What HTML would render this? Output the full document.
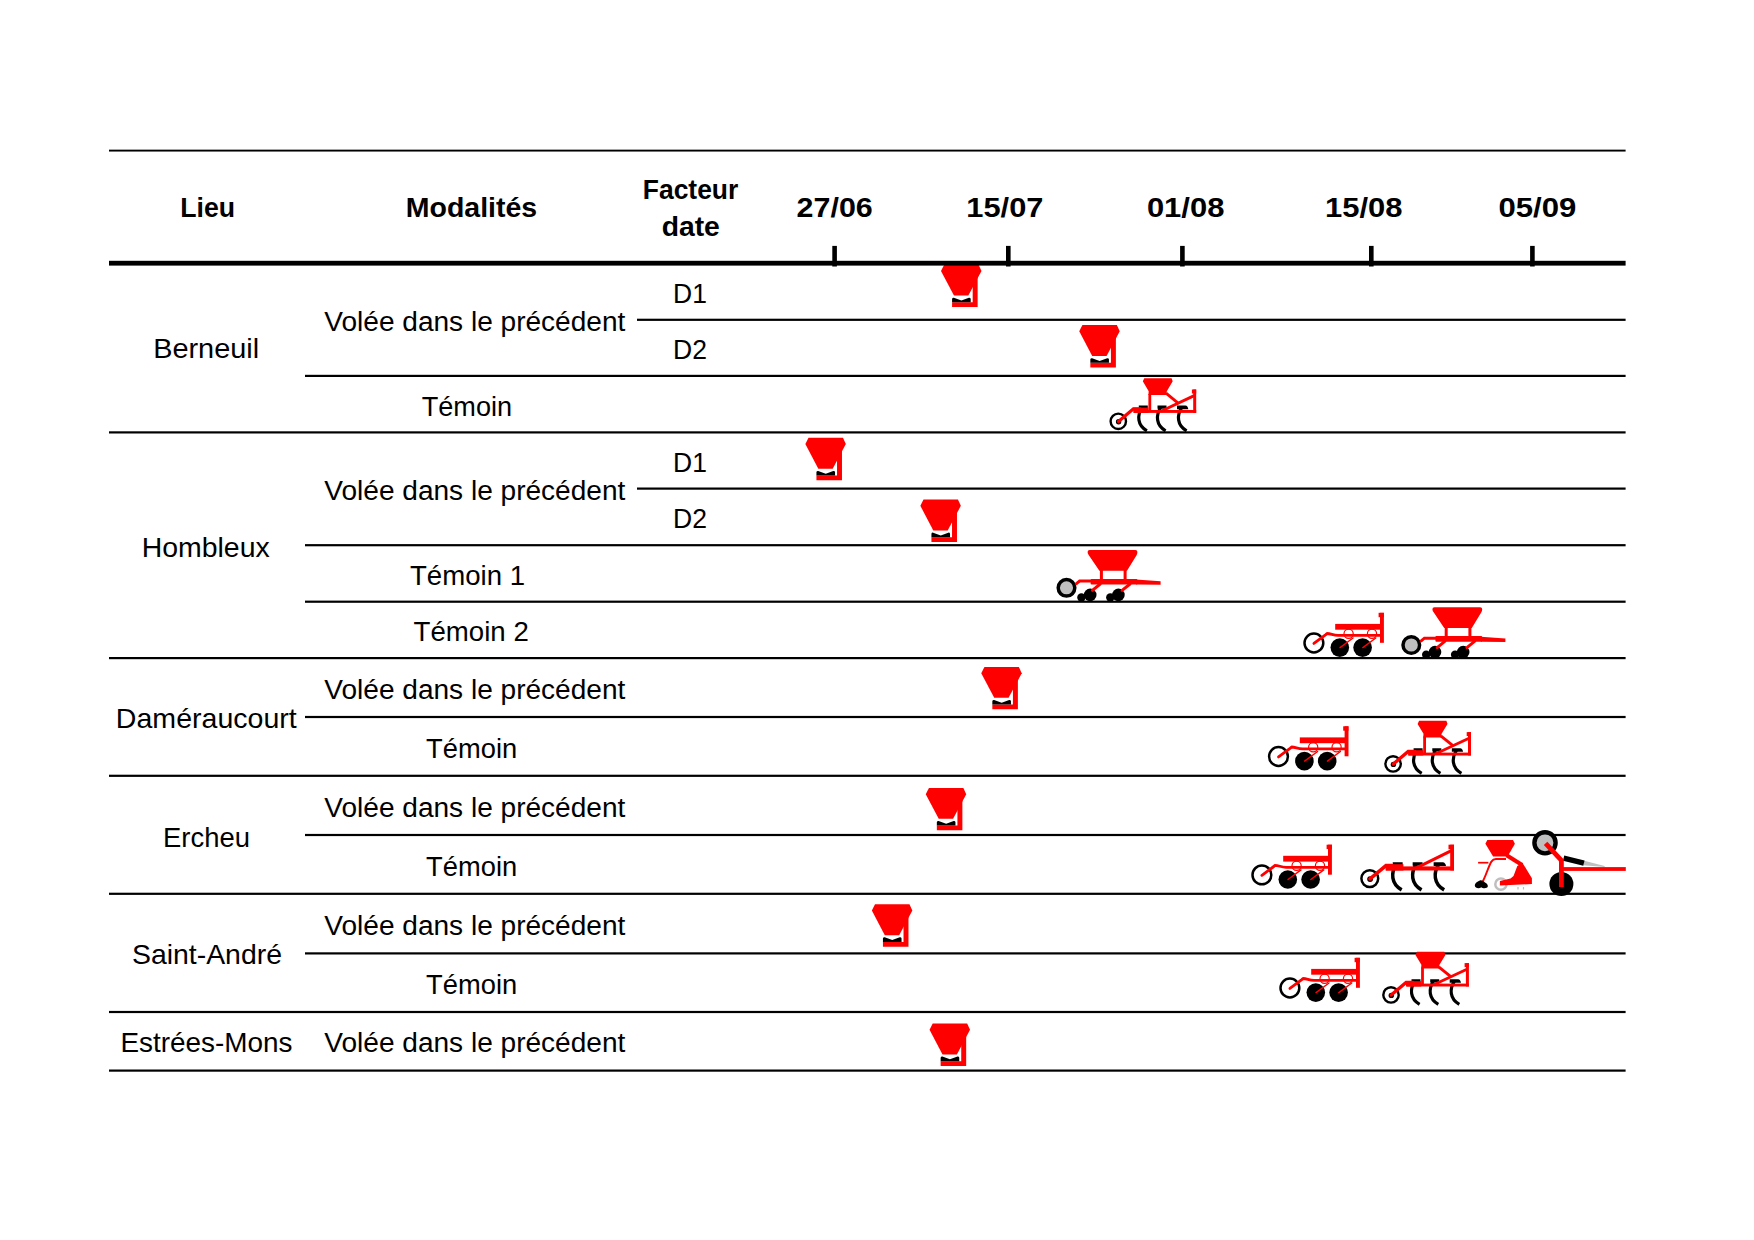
<!DOCTYPE html>
<html lang="fr"><head><meta charset="utf-8"><title>Calendrier des semis</title>
<style>
html,body{margin:0;padding:0;background:#fff}
svg{display:block}
text{font-family:"Liberation Sans",sans-serif;font-size:28.4px;fill:#000}
</style></head><body>
<svg width="1754" height="1240" viewBox="0 0 1754 1240">
<defs>
<g id="sp">
 <polygon fill="#f00" points="3.2,0 38,0 40.9,6.3 27.6,31.2 13.1,31.2 0,6.3"/>
 <path fill="#f00" d="M32,13 H37 V42.8 H11.2 V38 H32 Z"/>
 <path fill="#000" d="M11.2,34.6 Q11.4,33.2 13,33.4 L20.6,36.2 L28.2,33.4 Q29.8,33.2 30,34.6 V38 H11.2 Z"/>
</g>
<g id="tines" fill="none" stroke="#000" stroke-width="3.2" stroke-linecap="butt">
 <path d="M0.5,0 H9.5 M3.6,0.5 C-1.2,8 -1.2,18 8.6,23.6"/>
</g>
<g id="tine3">
 <path fill="#000" d="M-1,-1.6 H7.4 Q9.8,-1.3 10.3,2 H-1 Z"/>
 <path fill="none" stroke="#000" stroke-width="3.2" d="M3.6,0.5 C-1.2,8 -1.2,18 8.6,23.6"/>
</g>
<g id="ch">
 <use href="#tines" x="1138.3" y="407.2"/>
 <use href="#tines" x="1157.0" y="407.2"/>
 <use href="#tine3" x="1178.0" y="407.2"/>
 <circle cx="1118.3" cy="421.3" r="7.7" fill="#fff" stroke="#000" stroke-width="2.4"/>
 <circle cx="1118.6" cy="421.8" r="2.7" fill="#000"/>
 <g fill="#f00" stroke="none">
  <polygon points="1144.3,378.2 1171.6,378.2 1172.7,381.3 1166.8,391.2 1166.2,395 1148.4,395 1148.7,391.2 1142.8,381.3"/>
  <rect x="1148.4" y="394" width="2.8" height="17"/>
  <rect x="1134" y="410" width="62.2" height="2.9"/>
  <rect x="1133.3" y="407.6" width="15.2" height="5.3"/>
  <rect x="1193.2" y="389.5" width="3" height="23.4"/>
  <rect x="1191.9" y="389.5" width="4.3" height="4"/>
 </g>
 <g stroke="#f00" stroke-width="2.9" fill="none" stroke-linecap="round">
  <path stroke-width="3.3" d="M1118.5,421.5 L1133.4,408.8 H1140"/>
  <path d="M1166,393.2 L1177.8,402.8" stroke-linecap="butt"/>
  <path d="M1194.2,395.6 L1161,411.2" stroke-linecap="butt"/>
 </g>
</g>

<g id="cu">
 <use href="#tines" transform="translate(1392.2 863.9) scale(1.1)"/>
 <use href="#tines" transform="translate(1412.1 863.9) scale(1.1)"/>
 <use href="#tine3" transform="translate(1434.7 863.9) scale(1.1)"/>
 <circle cx="1369.8" cy="878.6" r="8.4" fill="#fff" stroke="#000" stroke-width="2.5"/>
 <circle cx="1370.1" cy="879.1" r="2.9" fill="#000"/>
 <g fill="#f00">
  <rect x="1386" y="866.4" width="68" height="4.1"/>
  <rect x="1385.6" y="864.2" width="17.8" height="6.3"/>
  <rect x="1450.2" y="844.7" width="3.8" height="25.8"/>
  <rect x="1448.5" y="844.7" width="5.5" height="4.5"/>
 </g>
 <g stroke="#f00" stroke-width="3.2" fill="none" stroke-linecap="round">
  <path stroke-width="3.5" d="M1370,878.8 L1386,865.6 H1392"/>
  <path d="M1451.4,850.6 L1415,868.6" stroke-linecap="butt"/>
 </g>
</g>
<g id="dh">
 <circle cx="1339.8" cy="647.6" r="9.3" fill="#000"/>
 <circle cx="1362.6" cy="647.6" r="9.3" fill="#000"/>
 <circle cx="1313.9" cy="643" r="9.4" fill="#fff" stroke="#000" stroke-width="2.5"/>
 <g fill="#f00">
  <rect x="1335.2" y="623.9" width="46" height="5.8"/>
  <rect x="1380" y="612.8" width="3.9" height="30"/>
  <rect x="1378.6" y="612.8" width="5.3" height="4.4"/>
 </g>
 <g stroke="#f00" fill="none" stroke-linecap="round" stroke-linejoin="round">
  <path stroke-width="2.8" d="M1313.9,643.4 L1325.8,634.6 L1327,633.5 C1331,633.5 1333,635.4 1338,635.4 H1381"/>
  <path stroke-width="1.4" d="M1340,647.6 L1353,638 M1362.8,647.6 L1375.8,638"/>
  <circle stroke-width="1.2" cx="1348.6" cy="633.8" r="4.6"/>
  <circle stroke-width="1.2" cx="1372" cy="633.8" r="4.6"/>
 </g>
</g>
<g id="sd">
 <circle cx="1090.2" cy="594.9" r="6.3" fill="#000"/>
 <circle cx="1081.4" cy="597.5" r="4.2" fill="#000"/>
 <circle cx="1118.4" cy="594.9" r="6.3" fill="#000"/>
 <circle cx="1110.3" cy="597.5" r="4.2" fill="#000"/>
 <circle cx="1066.5" cy="587.8" r="8.3" fill="#bfbfbf" stroke="#000" stroke-width="3.5"/>
 <g fill="#f00">
  <path d="M1089.6,550 H1135.4 Q1137.4,550 1137.4,552 Q1137.4,553.8 1136.4,555.4 L1127,570.8 H1099.4 L1089,555.4 Q1087.6,553.8 1087.6,552 Q1087.6,550 1089.6,550 Z"/>
  <rect x="1099.9" y="570" width="3" height="10"/>
  <rect x="1123.6" y="570" width="3" height="10"/>
  <rect x="1090.6" y="578.9" width="46.8" height="5.6" rx="1"/>
  <polygon points="1136,579.6 1160.6,581.3 1160.6,584.8 1136,584.5"/>
 </g>
 <g stroke="#f00" fill="none" stroke-width="3" stroke-linecap="round">
  <path d="M1076.4,583.6 L1079.6,581 H1092"/>
  <path d="M1100.2,584 L1092.4,590.4 M1130,584 L1122.1,590.4"/>
 </g>
</g>
<g id="ss">
 <circle cx="1500.9" cy="884.2" r="5.6" fill="none" stroke="#bfbfbf" stroke-width="2.5"/>
 <path d="M1518,887 V889.5 M1523.5,887 V889.5" stroke="#bfbfbf" stroke-width="1.2"/>
 <g fill="#f00">
  <polygon points="1487.3,839.9 1513,839.9 1514.9,843.8 1507.6,856.6 1493.1,856.6 1485.4,843.8"/>
  <polygon points="1521.4,863.4 1522.8,863.4 1531.9,878.2 1531.9,884 1499.9,885.6 1499.9,881.1 1510.5,878.6 1513.5,876 1517.3,866"/>
 </g>
 <g stroke="#f00" fill="none" stroke-linecap="butt">
  <path stroke-width="4" d="M1506.6,855.2 L1522.2,865"/>
  <path stroke-width="1.7" d="M1478.1,862.7 H1488.4"/>
  <path stroke-width="2" d="M1506,859 H1496 C1490,859 1490,866 1482.9,881.4"/>
 </g>
 <path fill="#000" d="M1474.8,885.5 C1474.8,883 1478,881 1480,880.4 C1482,880 1484,881.5 1485,882.5 C1487,883 1488,885 1487.8,886.5 C1487.5,888.5 1483,888.8 1481.3,887.2 C1479.5,888.8 1475,888.5 1474.8,885.5 Z"/>
</g>
<g id="tr">
 <circle cx="1561.4" cy="884" r="12" fill="#000"/>
 <circle cx="1545" cy="842.8" r="10.6" fill="#bfbfbf" stroke="#000" stroke-width="4.4"/>
 <polygon fill="#bfbfbf" points="1584.2,860.8 1604.6,866 1604.6,867 1583.4,865.2"/>
 <path stroke="#000" stroke-width="5.4" d="M1563.6,858.2 L1583.9,863.2" fill="none"/>
 <rect fill="#f00" x="1561.4" y="867.1" width="64.4" height="3.8"/>
 <path stroke="#f00" stroke-width="4.8" fill="none" stroke-linejoin="round" d="M1545.6,843.4 L1561.4,860.3 V886.9"/>
</g>
</defs>
<rect width="1754" height="1240" fill="#fff"/>
<g fill="#000">
<rect x="109" y="149.65" width="1516.6" height="1.9"/>
<rect x="637" y="318.70" width="988.6" height="2.2"/>
<rect x="305" y="374.80" width="1320.6" height="2.2"/>
<rect x="109" y="431.30" width="1516.6" height="2.2"/>
<rect x="637" y="487.50" width="988.6" height="2.2"/>
<rect x="305" y="544.10" width="1320.6" height="2.2"/>
<rect x="305" y="600.60" width="1320.6" height="2.2"/>
<rect x="109" y="657.00" width="1516.6" height="2.2"/>
<rect x="305" y="715.90" width="1320.6" height="2.2"/>
<rect x="109" y="774.70" width="1516.6" height="2.2"/>
<rect x="305" y="833.90" width="1320.6" height="2.2"/>
<rect x="109" y="892.70" width="1516.6" height="2.2"/>
<rect x="305" y="952.30" width="1320.6" height="2.2"/>
<rect x="109" y="1010.90" width="1516.6" height="2.2"/>
<rect x="109" y="1069.50" width="1516.6" height="2.2"/>
<rect x="832.3" y="245.9" width="4.6" height="20.6"/>
<rect x="1006.0" y="245.9" width="4.6" height="20.6"/>
<rect x="1180.1" y="245.9" width="4.6" height="20.6"/>
<rect x="1369.0" y="245.9" width="4.6" height="20.6"/>
<rect x="1530.1" y="245.9" width="4.6" height="20.6"/>
</g>
<g>
<text transform="translate(180.24 217.40) scale(0.9388 1)" font-weight="700">Lieu</text>
<text transform="translate(405.82 217.40) scale(1.0034 1)" font-weight="700">Modalités</text>
<text transform="translate(642.75 198.70) scale(0.9321 1)" font-weight="700">Facteur</text>
<text transform="translate(661.64 235.80) scale(0.9971 1)" font-weight="700">date</text>
<text transform="translate(796.56 217.00) scale(1.0724 1)" font-weight="700">27/06</text>
<text transform="translate(966.29 217.00) scale(1.0856 1)" font-weight="700">15/07</text>
<text transform="translate(1146.89 217.00) scale(1.0912 1)" font-weight="700">01/08</text>
<text transform="translate(1324.98 217.00) scale(1.0914 1)" font-weight="700">15/08</text>
<text transform="translate(1498.39 217.00) scale(1.0968 1)" font-weight="700">05/09</text>
<text transform="translate(153.13 358.40) scale(1.0180 1)">Berneuil</text>
<text transform="translate(141.67 557.10) scale(1.0020 1)">Hombleux</text>
<text transform="translate(115.86 727.60) scale(1.0056 1)">Daméraucourt</text>
<text transform="translate(163.05 846.70) scale(0.9666 1)">Ercheu</text>
<text transform="translate(131.92 963.80) scale(1.0010 1)">Saint-André</text>
<text transform="translate(120.51 1052.20) scale(0.9817 1)">Estrées-Mons</text>
<text transform="translate(324.29 330.60) scale(0.9883 1)">Volée dans le précédent</text>
<text transform="translate(324.29 499.70) scale(0.9883 1)">Volée dans le précédent</text>
<text transform="translate(324.29 698.90) scale(0.9883 1)">Volée dans le précédent</text>
<text transform="translate(324.29 817.10) scale(0.9883 1)">Volée dans le précédent</text>
<text transform="translate(324.29 935.00) scale(0.9883 1)">Volée dans le précédent</text>
<text transform="translate(324.29 1052.20) scale(0.9883 1)">Volée dans le précédent</text>
<text transform="translate(421.70 415.80) scale(0.9551 1)">Témoin</text>
<text transform="translate(409.99 584.70) scale(0.9718 1)">Témoin 1</text>
<text transform="translate(413.59 641.20) scale(0.9731 1)">Témoin 2</text>
<text transform="translate(426.10 758.10) scale(0.9616 1)">Témoin</text>
<text transform="translate(426.10 876.00) scale(0.9616 1)">Témoin</text>
<text transform="translate(426.10 994.40) scale(0.9616 1)">Témoin</text>
<text transform="translate(673.03 302.70) scale(0.9324 1)">D1</text>
<text transform="translate(673.03 471.60) scale(0.9324 1)">D1</text>
<text transform="translate(673.02 358.90) scale(0.9341 1)">D2</text>
<text transform="translate(673.02 528.30) scale(0.9341 1)">D2</text>
</g>
<g>
<use href="#sp" transform="translate(941.00 264.71) scale(0.99)"/>
<use href="#sp" transform="translate(1079.25 325.11) scale(0.99)"/>
<use href="#sp" transform="translate(805.35 437.86) scale(0.99)"/>
<use href="#sp" transform="translate(920.35 499.56) scale(0.99)"/>
<use href="#sp" transform="translate(981.25 666.96) scale(0.99)"/>
<use href="#sp" transform="translate(925.75 787.96) scale(0.99)"/>
<use href="#sp" transform="translate(871.85 904.26) scale(0.99)"/>
<use href="#sp" transform="translate(929.55 1023.51) scale(0.99)"/>
<use href="#ch" x="0" y="0"/>
<use href="#ch" x="274.8" y="342.6"/>
<use href="#ch" x="272.7" y="573.6"/>
<use href="#cu" x="0" y="0"/>
<use href="#dh" x="0" y="0"/>
<use href="#dh" x="-35.4" y="113.5"/>
<use href="#dh" x="-52.0" y="231.9"/>
<use href="#dh" x="-24.0" y="345.0"/>
<use href="#sd" x="0" y="0"/>
<use href="#sd" x="344.8" y="57.2"/>
<use href="#ss" x="0" y="0"/>
<use href="#tr" x="0" y="0"/>
</g>
<g fill="#000">
<rect x="109" y="260.80" width="1516.6" height="4.8"/>
</g>
</svg>
</body></html>
